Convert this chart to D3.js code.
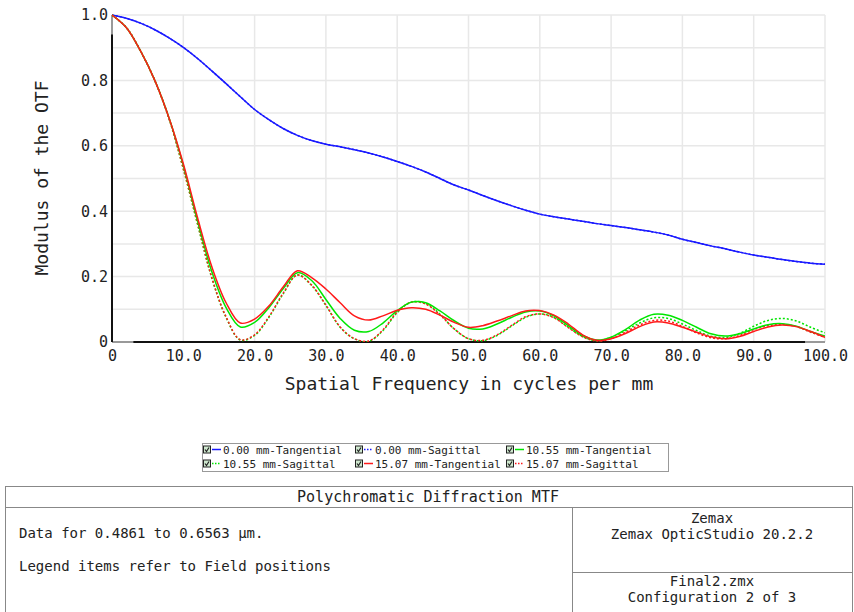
<!DOCTYPE html>
<html lang="en">
  <head>
    <meta charset="UTF-8" />
    <script src="https://d3js.org/d3.v7.min.js"></script>
    <title>Polychromatic Diffraction MTF</title>
    <style>
      body { margin: 0; background: #fff; }
      text { font-family: 'DejaVu Sans Mono', monospace; fill: #222; }
    </style>
  </head>
  <body>
    <div id="my_dataviz"></div>
    <script>
      // spatial frequency samples (cycles per mm)
      const freq = [
        0, 2, 4, 6, 8, 10, 12, 14, 16, 18, 20, 22, 24, 26, 28, 30, 32, 34, 36, 38, 40,
        42, 44, 46, 48, 50, 52, 54, 56, 58, 60, 62, 64, 66, 68, 70, 72, 74, 76, 78, 80,
        82, 84, 86, 88, 90, 92, 94, 96, 98, 100
      ]

      // modulus of the OTF
      const field0T = [
        1.0, 0.99, 0.975, 0.955, 0.93, 0.901, 0.867, 0.829, 0.79, 0.75, 0.711, 0.68, 0.653,
        0.632, 0.616, 0.605, 0.597, 0.588, 0.578, 0.566, 0.552, 0.537, 0.52, 0.5, 0.48,
        0.465, 0.448, 0.432, 0.417, 0.403, 0.391, 0.383, 0.376, 0.369, 0.362, 0.356, 0.35,
        0.343, 0.336, 0.327, 0.314, 0.304, 0.294, 0.285, 0.275, 0.266, 0.259, 0.252,
        0.246, 0.241, 0.238
      ]
      const field0S = field0T.slice()
      const field1T = [
        1.0, 0.962, 0.89, 0.8, 0.685, 0.54, 0.37, 0.215, 0.105, 0.046, 0.06, 0.105, 0.163,
        0.212, 0.188, 0.13, 0.072, 0.036, 0.032, 0.058, 0.096, 0.122, 0.12, 0.095, 0.065,
        0.042, 0.04, 0.055, 0.075, 0.092, 0.095, 0.08, 0.05, 0.02, 0.006, 0.015, 0.038,
        0.067, 0.085, 0.082, 0.066, 0.045, 0.025, 0.018, 0.025, 0.04, 0.053, 0.056,
        0.048, 0.032, 0.018
      ]
      const field1S = [
        1.0, 0.962, 0.89, 0.8, 0.683, 0.53, 0.36, 0.195, 0.075, 0.006, 0.02, 0.075, 0.147,
        0.205, 0.173, 0.112, 0.045, 0.01, 0.002, 0.035, 0.09, 0.122, 0.118, 0.085, 0.04,
        0.01, 0.004, 0.02, 0.048, 0.075, 0.086, 0.075, 0.045, 0.017, 0.004, 0.014, 0.035,
        0.058, 0.074, 0.072, 0.055, 0.035, 0.018, 0.014, 0.026, 0.048, 0.066, 0.072,
        0.064, 0.045, 0.028
      ]
      const field2T = [
        1.0, 0.962, 0.89, 0.8, 0.685, 0.545, 0.38, 0.23, 0.12, 0.058, 0.07, 0.11, 0.168,
        0.218, 0.197, 0.162, 0.12, 0.08, 0.067, 0.08, 0.097, 0.105, 0.1, 0.082, 0.06,
        0.045, 0.05, 0.064, 0.08, 0.095, 0.096, 0.082, 0.055, 0.022, 0.005, 0.01, 0.026,
        0.047, 0.061, 0.058, 0.045, 0.03, 0.016, 0.01, 0.017, 0.032, 0.046, 0.052,
        0.047, 0.032, 0.014
      ]
      const field2S = [
        1.0, 0.962, 0.89, 0.8, 0.683, 0.53, 0.362, 0.197, 0.077, 0.007, 0.022, 0.077, 0.149,
        0.205, 0.174, 0.113, 0.046, 0.01, 0.003, 0.037, 0.092, 0.122, 0.116, 0.083, 0.04,
        0.01, 0.005, 0.022, 0.05, 0.077, 0.086, 0.074, 0.044, 0.016, 0.003, 0.01, 0.03,
        0.052, 0.066, 0.064, 0.048, 0.028, 0.013, 0.01, 0.02, 0.038, 0.05, 0.054,
        0.047, 0.03, 0.014
      ]

      const seriesNames = [
        '0.00 mm-Tangential', '0.00 mm-Sagittal', '10.55 mm-Tangential',
        '10.55 mm-Sagittal', '15.07 mm-Tangential', '15.07 mm-Sagittal'
      ]
      const seriesValues = [field0T, field0S, field1T, field1S, field2T, field2S]
      const seriesColors = ['#1a1aff', '#1a1aff', '#00e600', '#00e600', '#ff1a1a', '#ff1a1a']
      const seriesDotted = [false, true, false, true, false, true]

      const xTicks = [0, 10, 20, 30, 40, 50, 60, 70, 80, 90, 100]
      const yTicks = [0, 0.2, 0.4, 0.6, 0.8, 1.0]

      const tableTitle = 'Polychromatic Diffraction MTF'
      const tableLeft = ['Data for 0.4861 to 0.6563 µm.', 'Legend items refer to Field positions']
      const tableRightTop = ['Zemax', 'Zemax OpticStudio 20.2.2']
      const tableRightBottom = ['Final2.zmx', 'Configuration 2 of 3']

      const W = 854, H = 612
      const svg = d3
        .select('#my_dataviz')
        .append('svg')
        .attr('width', W)
        .attr('height', H)

      // plot area
      const x = d3.scaleLinear().domain([0, 100]).range([112, 825])
      const y = d3.scaleLinear().domain([0, 1]).range([342, 15])

      svg.append('clipPath')
        .attr('id', 'plotClip')
        .append('rect')
        .attr('x', x(0)).attr('y', y(1) - 2)
        .attr('width', x(100) - x(0)).attr('height', y(0) - y(1) + 2)

      // grid
      const grid = svg.append('g').attr('stroke', '#e8e8e8').attr('stroke-width', 1.5)
      grid
        .selectAll('.vg')
        .data(d3.range(0, 101, 10))
        .join('line')
        .attr('x1', d => x(d))
        .attr('x2', d => x(d))
        .attr('y1', y(0))
        .attr('y2', y(1))
      grid
        .selectAll('.hg')
        .data(d3.range(1, 11).map(d => d / 10))
        .join('line')
        .attr('x1', x(0))
        .attr('x2', x(100))
        .attr('y1', d => y(d))
        .attr('y2', d => y(d))

      // axes
      const xAxis = svg
        .append('g')
        .attr('transform', `translate(0, ${y(0)})`)
        .call(d3.axisBottom(x).tickValues(xTicks).tickSize(0).tickPadding(8)
          .tickFormat(d => (d === 0 ? '0' : d3.format('.1f')(d))))
      xAxis.select('.domain').remove()
      xAxis.selectAll('text').style('font-size', '15px').style('font-family', 'DejaVu Sans Mono')

      const yAxis = svg
        .append('g')
        .attr('transform', `translate(${x(0)}, 0)`)
        .call(d3.axisLeft(y).tickValues(yTicks).tickSize(0).tickPadding(4)
          .tickFormat(d => (d === 0 ? '0' : d3.format('.1f')(d))))
      yAxis.select('.domain').remove()
      yAxis.selectAll('text').style('font-size', '15px').style('font-family', 'DejaVu Sans Mono')

      // axis lines, grey near the ends like the original
      svg.append('line')
        .attr('x1', x(0)).attr('x2', x(100)).attr('y1', y(0)).attr('y2', y(0))
        .attr('stroke', '#999').attr('stroke-width', 2)
      svg.append('line')
        .attr('x1', x(3)).attr('x2', x(97.2)).attr('y1', y(0)).attr('y2', y(0))
        .attr('stroke', '#111').attr('stroke-width', 2)
      svg.append('line')
        .attr('x1', x(0)).attr('x2', x(0)).attr('y1', y(0)).attr('y2', y(1))
        .attr('stroke', '#999').attr('stroke-width', 2)
      svg.append('line')
        .attr('x1', x(0)).attr('x2', x(0)).attr('y1', y(0)).attr('y2', y(0.94))
        .attr('stroke', '#111').attr('stroke-width', 2)

      // curves
      const line = d3
        .line()
        .x((d, i) => x(freq[i]))
        .y(d => y(d))
        .curve(d3.curveCatmullRom.alpha(0.5))

      const order = [1, 0, 3, 5, 2, 4]
      svg
        .append('g')
        .attr('clip-path', 'url(#plotClip)')
        .selectAll('path')
        .data(order)
        .join('path')
        .attr('d', i => line(seriesValues[i]))
        .attr('fill', 'none')
        .attr('stroke', i => seriesColors[i])
        .attr('stroke-width', 1.5)
        .attr('stroke-dasharray', i => (seriesDotted[i] ? '2,2' : null))

      // axis titles
      svg.append('text')
        .attr('x', 469)
        .attr('y', 390)
        .attr('text-anchor', 'middle')
        .style('font-size', '18px')
        .text('Spatial Frequency in cycles per mm')
      svg.append('text')
        .attr('transform', 'translate(48, 178) rotate(-90)')
        .attr('text-anchor', 'middle')
        .style('font-size', '18px')
        .text('Modulus of the OTF')

      // legend
      const legend = svg.append('g')
      legend.append('rect')
        .attr('x', 202.5).attr('y', 443.5).attr('width', 466).attr('height', 28)
        .attr('fill', '#fff').attr('stroke', '#999')
      const colX = [203, 355, 506]
      const rowY = [449.5, 463.5]
      const item = legend
        .selectAll('.item')
        .data(seriesNames)
        .join('g')
        .attr('transform', (d, i) => `translate(${colX[i % 3]}, ${rowY[Math.floor(i / 3)]})`)
      item.append('rect')
        .attr('x', 0.5).attr('y', -3.5).attr('width', 7).attr('height', 7)
        .attr('fill', '#cfe8cf').attr('stroke', '#222')
      item.append('path')
        .attr('d', 'M2,0 L3.5,2 L6,-2')
        .attr('fill', 'none').attr('stroke', '#222').attr('stroke-width', 1.2)
      item.append('line')
        .attr('x1', 9).attr('x2', 18).attr('y1', 0).attr('y2', 0)
        .attr('stroke', (d, i) => seriesColors[i])
        .attr('stroke-width', 1.5)
        .attr('stroke-dasharray', (d, i) => (seriesDotted[i] ? '1.5,1.5' : null))
      item.append('text')
        .attr('x', 20).attr('y', 4)
        .style('font-size', '11px')
        .text(d => d)

      // info table
      const table = svg.append('g').attr('stroke', '#888').attr('fill', 'none')
      table.append('rect').attr('x', 5.5).attr('y', 486.5).attr('width', 847).attr('height', 130)
      table.append('line').attr('x1', 5.5).attr('x2', 852.5).attr('y1', 507.5).attr('y2', 507.5)
      table.append('line').attr('x1', 572.5).attr('x2', 572.5).attr('y1', 507.5).attr('y2', 612)
      table.append('line').attr('x1', 572.5).attr('x2', 852.5).attr('y1', 572.5).attr('y2', 572.5)

      svg.append('text')
        .attr('x', 428).attr('y', 502)
        .attr('text-anchor', 'middle')
        .style('font-size', '15px')
        .text(tableTitle)
      svg.selectAll('.tl')
        .data(tableLeft)
        .join('text')
        .attr('x', 19)
        .attr('y', (d, i) => 538 + i * 33)
        .style('font-size', '14px')
        .text(d => d)
      svg.selectAll('.tr')
        .data(tableRightTop)
        .join('text')
        .attr('x', 712)
        .attr('y', (d, i) => 523 + i * 16)
        .attr('text-anchor', 'middle')
        .style('font-size', '14px')
        .text(d => d)
      svg.selectAll('.tb')
        .data(tableRightBottom)
        .join('text')
        .attr('x', 712)
        .attr('y', (d, i) => 586 + i * 16)
        .attr('text-anchor', 'middle')
        .style('font-size', '14px')
        .text(d => d)
    </script>
  </body>
</html>
